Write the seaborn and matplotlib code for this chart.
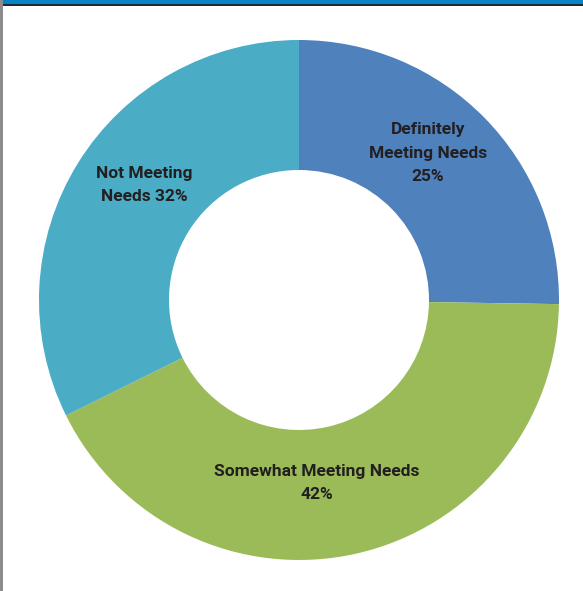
import matplotlib
matplotlib.use("Agg")
import matplotlib.pyplot as plt
import seaborn as sns

# dados do gráfico
categorias = ["Definitely\nMeeting Needs", "Somewhat Meeting Needs", "Not Meeting\nNeeds"]
percentuais = [25, 42, 32]
cores = ["#4f81bd", "#9bbb59", "#4bacc6"]

sns.set_theme(style="white")
plt.rcParams["font.family"] = ["Roboto", "DejaVu Sans"]

fig = plt.figure(figsize=(5.83, 5.91), dpi=100)
fig.patch.set_facecolor("white")

# eixo da rosca (centro ~ (299, 300) px, raio ~260 px)
ax = fig.add_axes([39 / 583, 31 / 591, 520 / 583, 520 / 591])
paleta = sns.color_palette(cores)
ax.pie(percentuais, colors=paleta, startangle=90, counterclock=False,
       wedgeprops=dict(width=0.5, linewidth=0), radius=1)
ax.set_xlim(-1, 1)
ax.set_ylim(-1, 1)
ax.set_aspect("equal")
ax.axis("off")

# rótulos
rotulos = [
    f"{categorias[0]}\n{percentuais[0]}%",
    f"{categorias[1]}\n{percentuais[1]}%",
    f"{categorias[2]} {percentuais[2]}%",
]
posicoes = [(0.496, 0.565), (0.069, -0.704), (-0.596, 0.442)]
for texto, (x, y) in zip(rotulos, posicoes):
    ax.text(x, y, texto, ha="center", va="center", fontsize=12.5,
            fontweight="bold", color="#231f20", linespacing=1.72)

# faixa azul no topo e borda cinza à esquerda
fig.add_artist(plt.Rectangle((0, 1 - 4 / 591), 1, 4 / 591, transform=fig.transFigure,
                             facecolor="#0585c5", edgecolor="none"))
fig.add_artist(plt.Rectangle((0, 1 - 5.5 / 591), 1, 1.5 / 591, transform=fig.transFigure,
                             facecolor="#1c2b38", edgecolor="none"))
fig.add_artist(plt.Rectangle((0, 0), 2.5 / 583, 1, transform=fig.transFigure,
                             facecolor="#8c8c8c", edgecolor="none"))

fig.savefig("out.png", dpi=100, facecolor="white")
